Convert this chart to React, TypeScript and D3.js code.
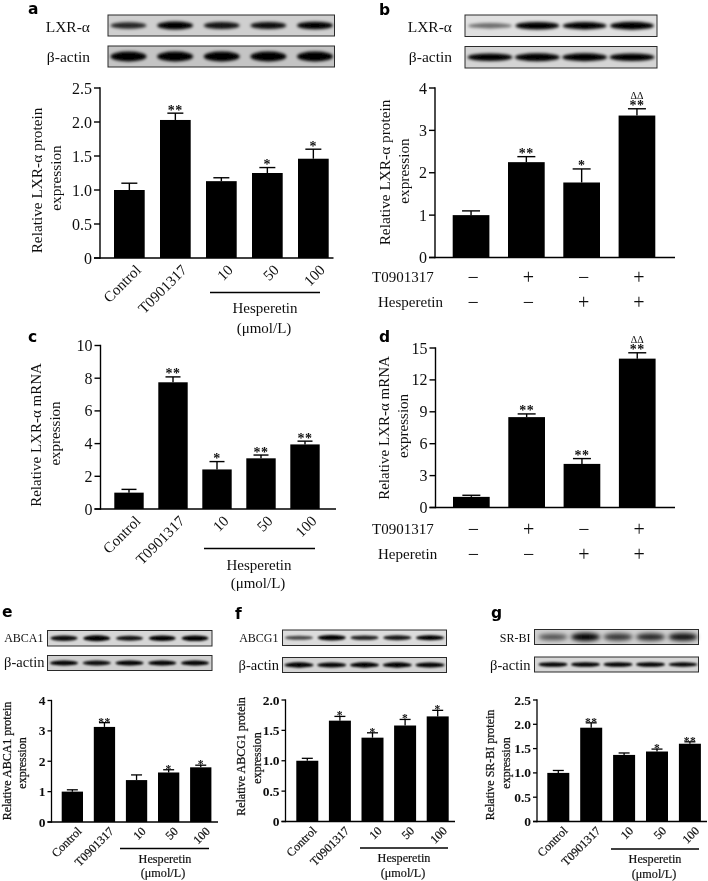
import React from "react";
import * as d3 from "d3";

// ---------- data ----------
const doseGroups = ["Control", "T0901317", "10", "50", "100"];
const factorialGroups = ["c1", "c2", "c3", "c4"];

const aValues = [1.0, 2.03, 1.13, 1.25, 1.46];
const aErrTops = [1.1, 2.13, 1.18, 1.33, 1.6];
const aStars = ["", "**", "", "*", "*"];
const aTicks = ["0", "0.5", "1.0", "1.5", "2.0", "2.5"];

const bValues = [1.0, 2.25, 1.77, 3.35];
const bErrTops = [1.1, 2.38, 2.09, 3.51];
const bStars = ["", "**", "*", "**"];
const bDeltas = ["", "", "", "ΔΔ"];
const bTicks = ["0", "1", "2", "3", "4"];

const cValues = [1.0, 7.75, 2.42, 3.1, 3.95];
const cErrTops = [1.2, 8.08, 2.9, 3.3, 4.15];
const cStars = ["", "**", "*", "**", "**"];
const cTicks = ["0", "2", "4", "6", "8", "10"];

const dValues = [1.0, 8.5, 4.1, 14.0];
const dErrTops = [1.15, 8.8, 4.6, 14.55];
const dStars = ["", "**", "**", "**"];
const dDeltas = ["", "", "", "ΔΔ"];
const dTicks = ["0", "3", "6", "9", "12", "15"];

const eValues = [1.0, 3.13, 1.38, 1.63, 1.8];
const eErrTops = [1.06, 3.27, 1.55, 1.72, 1.87];
const eStars = ["", "**", "", "*", "*"];
const eTicks = ["0", "1", "2", "3", "4"];

const fValues = [1.0, 1.66, 1.38, 1.58, 1.73];
const fErrTops = [1.04, 1.73, 1.46, 1.68, 1.83];
const fStars = ["", "*", "*", "*", "*"];
const fTicks = ["0", "0.5", "1.0", "1.5", "2.0"];

const gValues = [1.0, 1.93, 1.37, 1.44, 1.6];
const gErrTops = [1.05, 2.03, 1.41, 1.49, 1.64];
const gStars = ["", "**", "", "*", "**"];
const gTicks = ["0", "0.5", "1.0", "1.5", "2.0", "2.5"];

const t0901317Signs = ["−", "+", "−", "+"];
const hesperetinSigns = ["−", "−", "+", "+"];

// blot band strengths (0..1)
const aLxrBands = [0.62, 1, 0.72, 0.75, 0.88];
const aActinBands = [1, 0.95, 0.95, 0.95, 1];
const bLxrBands = [0.25, 0.9, 0.82, 0.95];
const bActinBands = [0.9, 1, 0.95, 0.9];
const eTargetBands = [0.75, 1, 0.72, 0.85, 0.9];
const eActinBands = [0.85, 0.75, 0.85, 0.85, 0.85];
const fTargetBands = [0.45, 0.95, 0.65, 0.7, 0.85];
const fActinBands = [0.9, 0.8, 0.9, 0.9, 0.85];
const gTargetBands = [0.4, 0.9, 0.55, 0.65, 0.75];
const gActinBands = [0.85, 0.85, 0.85, 0.85, 0.8];

// ---------- styles ----------
const SERIF = "'Liberation Serif', serif";
const INK = "#111";

type BlotLayout = { x0: number; x1: number; y0: number; y1: number; first: number; last: number; bandW: number; bandH: number; blur: string; bg: string; bands: number[]; label: string; labelX: number; labelY: number; labelSize: number };

function Blot({ b }: { b: BlotLayout }) {
  const lane = d3.scalePoint<number>().domain(d3.range(b.bands.length)).range([b.first, b.last]);
  const cy = (b.y0 + b.y1) / 2;
  return (
    <g>
      <rect x={b.x0} y={b.y0} width={b.x1 - b.x0} height={b.y1 - b.y0} fill={b.bg} />
      <g filter={`url(#${b.blur})`}>
        {b.bands.map((s, i) => {
          const h = b.bandH * (0.55 + 0.45 * s);
          return (
            <ellipse key={i} cx={lane(i)!} cy={cy} rx={b.bandW / 2} ry={h / 2}
              fill="#000" opacity={Math.min(1, 0.3 + 0.85 * s)} />
          );
        })}
      </g>
      <rect x={b.x0} y={b.y0} width={b.x1 - b.x0} height={b.y1 - b.y0} fill="none" stroke="#2a2a2a" strokeWidth={1} />
      <text x={b.labelX} y={b.labelY} textAnchor="end" dominantBaseline="central" fontFamily={SERIF} fontSize={b.labelSize} fill={INK}>{b.label}</text>
    </g>
  );
}

type ChartLayout = {
  groups: string[]; values: number[]; errs: number[]; stars: string[]; deltas?: string[]; ticks: string[];
  ax: number; axEnd: number; y0: number; yTop: number; firstBar: number; step: number; barW: number; capW: number;
  tickLen: number; tickFont: number; tickWeight?: number; lineW: number; starSize: number; starOff: number;
  titleLines: [string, string]; t1: [number, number]; t2: [number, number]; titleSize: number; titleWeight?: number;
};

function BarChart({ c }: { c: ChartLayout }) {
  const max = +c.ticks[c.ticks.length - 1];
  const y = d3.scaleLinear().domain([0, max]).range([c.y0, c.yTop]);
  const bw = c.barW;
  const cx = (i: number) => c.firstBar + i * c.step + bw / 2;
  const bold = c.titleWeight ? { stroke: INK, strokeWidth: c.titleWeight } : {};
  return (
    <g>
      {c.groups.map((g, i) => (
        <g key={g}>
          <line x1={cx(i)} x2={cx(i)} y1={y(c.values[i])} y2={y(c.errs[i])} stroke="#000" strokeWidth={c.lineW} />
          <line x1={cx(i) - c.capW / 2} x2={cx(i) + c.capW / 2} y1={y(c.errs[i])} y2={y(c.errs[i])} stroke="#000" strokeWidth={c.lineW} />
          <rect x={cx(i) - bw / 2} y={y(c.values[i])} width={bw} height={c.y0 - y(c.values[i])} fill="#000" />
          {c.stars[i] && (
            <text x={cx(i)} y={y(c.errs[i]) + c.starOff} textAnchor="middle" fontFamily={SERIF} fontSize={c.starSize} fontWeight={700} letterSpacing={0.5} fill={INK}>{c.stars[i]}</text>
          )}
          {c.deltas && c.deltas[i] && (
            <text x={cx(i)} y={y(c.errs[i]) - 9.5} textAnchor="middle" fontFamily={SERIF} fontSize={10} fill={INK}>{c.deltas[i]}</text>
          )}
        </g>
      ))}
      <line x1={c.ax} x2={c.ax} y1={c.y0 + c.lineW / 2} y2={c.yTop - c.lineW / 2} stroke="#000" strokeWidth={c.lineW} />
      <line x1={c.ax - c.tickLen} x2={c.axEnd} y1={c.y0} y2={c.y0} stroke="#000" strokeWidth={c.lineW} />
      {c.ticks.map((t) => (
        <g key={t}>
          <line x1={c.ax - c.tickLen} x2={c.ax} y1={y(+t)} y2={y(+t)} stroke="#000" strokeWidth={c.lineW} />
          <text x={c.ax - c.tickLen - 2} y={y(+t)} textAnchor="end" dominantBaseline="central" fontFamily={SERIF} fontSize={c.tickFont} fontWeight={c.tickWeight ?? 400} fill={INK}>{t}</text>
        </g>
      ))}
      <text transform={`translate(${c.t1[0]},${c.t1[1]}) rotate(-90)`} textAnchor="middle" dominantBaseline="central" fontFamily={SERIF} fontSize={c.titleSize} fill={INK} {...bold}>{c.titleLines[0]}</text>
      <text transform={`translate(${c.t2[0]},${c.t2[1]}) rotate(-90)`} textAnchor="middle" dominantBaseline="central" fontFamily={SERIF} fontSize={c.titleSize} fill={INK} {...bold}>{c.titleLines[1]}</text>
    </g>
  );
}

function DoseLabels({ c, size, capSize, dx, dy, line, hy, my, hx, mx, lw, heavy }: { c: ChartLayout; size: number; capSize: number; dx: number; dy: number; line: [number, number, number]; hy: number; my: number; hx: number; mx: number; lw: number; heavy?: number }) {
  const bold = heavy ? { stroke: INK, strokeWidth: heavy } : {};
  return (
    <g fontFamily={SERIF} fill={INK} {...bold}>
      {c.groups.map((g, i) => {
        const cx = c.firstBar + i * c.step + c.barW / 2;
        return (
          <text key={g} transform={`translate(${cx + dx},${c.y0 + dy}) rotate(-45)`} textAnchor="end" fontSize={size}>{g}</text>
        );
      })}
      <line x1={line[0]} x2={line[1]} y1={line[2]} y2={line[2]} stroke="#000" strokeWidth={lw} />
      <text x={hx} y={hy} textAnchor="middle" dominantBaseline="central" fontSize={capSize}>Hesperetin</text>
      <text x={mx} y={my} textAnchor="middle" dominantBaseline="central" fontSize={capSize}>(μmol/L)</text>
    </g>
  );
}

function SignRows({ c, names, ys, nameXs, a, b }: { c: ChartLayout; names: string[]; ys: number[]; nameXs: number[]; a: string[]; b: string[] }) {
  return (
    <g fontFamily={SERIF} fill={INK}>
      {[a, b].map((row, r) => (
        <g key={r}>
          <text x={nameXs[r]} y={ys[r]} dominantBaseline="central" fontSize={15}>{names[r]}</text>
          {row.map((s, i) => (
            <text key={i} x={c.firstBar + i * c.step + c.barW / 2 + 2} y={ys[r]} textAnchor="middle" dominantBaseline="central" fontSize={20}>{s}</text>
          ))}
        </g>
      ))}
    </g>
  );
}

const blots: BlotLayout[] = [
  { x0: 108, x1: 334.5, y0: 15, y1: 36, first: 128.5, last: 315, bandW: 36, bandH: 8, blur: "bl1", bg: "#cfcfcf", bands: aLxrBands, label: "LXR-α", labelX: 90, labelY: 26, labelSize: 15.5 },
  { x0: 108, x1: 334.5, y0: 46, y1: 67, first: 128.5, last: 315, bandW: 36, bandH: 10, blur: "bl1", bg: "#c4c4c4", bands: aActinBands, label: "β-actin", labelX: 90, labelY: 56.5, labelSize: 15.5 },
  { x0: 465, x1: 657, y0: 15, y1: 36.5, first: 490, last: 632, bandW: 44, bandH: 8, blur: "bl1", bg: "#e0e0e0", bands: bLxrBands, label: "LXR-α", labelX: 452, labelY: 26.5, labelSize: 15.5 },
  { x0: 465, x1: 657, y0: 46.5, y1: 68, first: 490, last: 632, bandW: 45, bandH: 8, blur: "bl1", bg: "#d4d4d4", bands: bActinBands, label: "β-actin", labelX: 452, labelY: 56.5, labelSize: 15.5 },
  { x0: 47.5, x1: 212, y0: 630.5, y1: 646, first: 64, last: 195, bandW: 27, bandH: 6, blur: "bl2", bg: "#d6d6d6", bands: eTargetBands, label: "ABCA1", labelX: 43.5, labelY: 638, labelSize: 12 },
  { x0: 47.5, x1: 212, y0: 655.5, y1: 670.5, first: 64, last: 195, bandW: 28, bandH: 5.5, blur: "bl2", bg: "#d0d0d0", bands: eActinBands, label: "β-actin", labelX: 44.5, labelY: 661.5, labelSize: 14.5 },
  { x0: 282.5, x1: 446.5, y0: 630, y1: 645.5, first: 299, last: 430, bandW: 28, bandH: 5.5, blur: "bl2", bg: "#dcdcdc", bands: fTargetBands, label: "ABCG1", labelX: 278.5, labelY: 638, labelSize: 12 },
  { x0: 282.5, x1: 446.5, y0: 657.5, y1: 672.5, first: 299, last: 430, bandW: 29, bandH: 5.5, blur: "bl2", bg: "#d4d4d4", bands: fActinBands, label: "β-actin", labelX: 279, labelY: 664.5, labelSize: 14.5 },
  { x0: 534.5, x1: 698.5, y0: 629.5, y1: 644.5, first: 553, last: 683, bandW: 29, bandH: 8.5, blur: "bl3", bg: "#d0d0d0", bands: gTargetBands, label: "SR-BI", labelX: 530.5, labelY: 637.5, labelSize: 12 },
  { x0: 534.5, x1: 698.5, y0: 657, y1: 672, first: 553, last: 683, bandW: 29, bandH: 5, blur: "bl2", bg: "#d6d6d6", bands: gActinBands, label: "β-actin", labelX: 530.5, labelY: 664.5, labelSize: 14.5 },
];

const chartA: ChartLayout = { groups: doseGroups, values: aValues, errs: aErrTops, stars: aStars, ticks: aTicks, ax: 100, axEnd: 333.5, y0: 258, yTop: 88, firstBar: 114, step: 46, barW: 30.7, capW: 16, tickLen: 6, tickFont: 16, lineW: 1.4, starSize: 14, starOff: 1.5, titleLines: ["Relative LXR-α protein", "expression"], t1: [36, 180.5], t2: [55, 178], titleSize: 15.3 };
const chartB: ChartLayout = { groups: factorialGroups, values: bValues, errs: bErrTops, stars: bStars, deltas: bDeltas, ticks: bTicks, ax: 435, axEnd: 675, y0: 257.5, yTop: 88, firstBar: 452.7, step: 55.3, barW: 36.7, capW: 18, tickLen: 6, tickFont: 16, lineW: 1.4, starSize: 14, starOff: 1.5, titleLines: ["Relative LXR-α protein", "expression"], t1: [384, 172.5], t2: [403, 171], titleSize: 15.3 };
const chartC: ChartLayout = { groups: doseGroups, values: cValues, errs: cErrTops, stars: cStars, ticks: cTicks, ax: 100.5, axEnd: 336, y0: 509, yTop: 345.5, firstBar: 114.3, step: 44, barW: 29.4, capW: 15, tickLen: 6, tickFont: 16, lineW: 1.4, starSize: 14, starOff: 1.5, titleLines: ["Relative LXR-α mRNA", "expression"], t1: [36, 435], t2: [55, 433.5], titleSize: 15 };
const chartD: ChartLayout = { groups: factorialGroups, values: dValues, errs: dErrTops, stars: dStars, deltas: dDeltas, ticks: dTicks, ax: 435.5, axEnd: 675, y0: 507.5, yTop: 348, firstBar: 453, step: 55.3, barW: 36.7, capW: 18, tickLen: 6, tickFont: 16, lineW: 1.4, starSize: 14, starOff: 1.5, titleLines: ["Relative LXR-α mRNA", "expression"], t1: [384, 428], t2: [403, 426], titleSize: 15 };
const chartE: ChartLayout = { groups: doseGroups, values: eValues, errs: eErrTops, stars: eStars, ticks: eTicks, ax: 51.5, axEnd: 218, y0: 822, yTop: 700.5, firstBar: 61.7, step: 32.1, barW: 21.3, capW: 11, tickLen: 4, tickFont: 13.5, tickWeight: 700, lineW: 1.3, starSize: 11.5, starOff: 3, titleLines: ["Relative ABCA1 protein", "expression"], t1: [6.5, 761], t2: [22, 763], titleSize: 12, titleWeight: 0.25 };
const chartF: ChartLayout = { groups: doseGroups, values: fValues, errs: fErrTops, stars: fStars, ticks: fTicks, ax: 285.5, axEnd: 455, y0: 821.5, yTop: 700, firstBar: 296.3, step: 32.6, barW: 22, capW: 11, tickLen: 4, tickFont: 13.5, tickWeight: 700, lineW: 1.3, starSize: 11.5, starOff: 3, titleLines: ["Relative ABCG1 protein", "expression"], t1: [241, 756.5], t2: [257, 758], titleSize: 12, titleWeight: 0.25 };
const chartG: ChartLayout = { groups: doseGroups, values: gValues, errs: gErrTops, stars: gStars, ticks: gTicks, ax: 537, axEnd: 707, y0: 821.5, yTop: 700, firstBar: 547.3, step: 32.9, barW: 22, capW: 11, tickLen: 4, tickFont: 13.5, tickWeight: 700, lineW: 1.3, starSize: 11.5, starOff: 3, titleLines: ["Relative SR-BI protein", "expression"], t1: [490, 765], t2: [506, 763], titleSize: 12, titleWeight: 0.25 };

const panelLetters: [string, number, number][] = [
  ["a", 28, 14], ["b", 379, 15], ["c", 28, 341.5], ["d", 379, 341.5], ["e", 2, 617], ["f", 235, 619], ["g", 491, 618],
];

export default function App() {
  return (
    <svg width={708} height={881} viewBox="0 0 708 881" style={{ position: "absolute", left: 0, top: 0, display: "block", background: "#fff" }}>
      <defs>
        <filter id="bl1" x="-20%" y="-60%" width="140%" height="220%"><feGaussianBlur stdDeviation="1.4" /></filter>
        <filter id="bl2" x="-20%" y="-60%" width="140%" height="220%"><feGaussianBlur stdDeviation="1" /></filter>
        <filter id="bl3" x="-20%" y="-60%" width="140%" height="220%"><feGaussianBlur stdDeviation="2" /></filter>
        <filter id="soft" filterUnits="userSpaceOnUse" x="0" y="0" width="708" height="881"><feGaussianBlur stdDeviation="0.35" /></filter>
      </defs>
      <g filter="url(#soft)">
        {blots.map((b, i) => <Blot key={i} b={b} />)}
        {[chartA, chartB, chartC, chartD, chartE, chartF, chartG].map((c, i) => <BarChart key={i} c={c} />)}
        <DoseLabels c={chartA} size={15} capSize={15} dx={12.5} dy={13} line={[210, 320, 292.5]} hx={265} hy={308} mx={264} my={328} lw={1.4} />
        <DoseLabels c={chartC} size={15} capSize={15} dx={12.5} dy={13} line={[204, 315, 548.5]} hx={259} hy={565} mx={258} my={583} lw={1.4} />
        <DoseLabels c={chartE} size={12} capSize={12.2} dx={10} dy={10} line={[120, 209, 848.5]} hx={165} hy={858.5} mx={163} my={873} lw={1.3} heavy={0.2} />
        <DoseLabels c={chartF} size={12} capSize={12.2} dx={10} dy={10} line={[360, 448, 848]} hx={404} hy={858} mx={403} my={872.5} lw={1.3} heavy={0.2} />
        <DoseLabels c={chartG} size={12} capSize={12.2} dx={10} dy={10} line={[611, 699, 849]} hx={655} hy={859} mx={654} my={873.5} lw={1.3} heavy={0.2} />
        <SignRows c={chartB} names={["T0901317", "Hesperetin"]} ys={[277, 302]} nameXs={[372, 378]} a={t0901317Signs} b={hesperetinSigns} />
        <SignRows c={chartD} names={["T0901317", "Heperetin"]} ys={[529, 554]} nameXs={[372, 378]} a={t0901317Signs} b={hesperetinSigns} />
        {panelLetters.map(([l, x, y]) => (
          <text key={l} x={x} y={y} fontFamily="'DejaVu Sans', sans-serif" fontWeight={700} fontSize={15.5} fill="#000">{l}</text>
        ))}
      </g>
    </svg>
  );
}
